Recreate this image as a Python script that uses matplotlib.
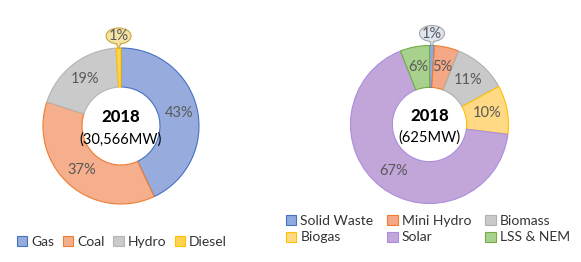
import matplotlib
matplotlib.use("Agg")
import matplotlib.pyplot as plt
import numpy as np
from matplotlib.patches import Ellipse, Polygon, Patch

plt.rcParams['font.family'] = ['Lato', 'DejaVu Sans']

# ---- data ----
left_labels = ["Gas", "Coal", "Hydro", "Diesel"]
left_values = [43, 37, 19, 1]
left_title = "2018"
left_sub = "(30,566MW)"

right_labels = ["Solid Waste", "Mini Hydro", "Biomass", "Biogas", "Solar", "LSS & NEM"]
right_values = [1, 5, 11, 10, 67, 6]
right_title = "2018"
right_sub = "(625MW)"

# ---- styles ----
left_fill = ["#97ACDD", "#F5AF8C", "#CACACA", "#FFD34F"]
left_edge = ["#4472C4", "#ED7D31", "#B5B5B5", "#FFC000"]
right_fill = ["#8FAADC", "#F4A886", "#C9C9C9", "#FFD983", "#C2A6DA", "#A9D18E"]
right_edge = ["#4472C4", "#ED7D31", "#B0B0B0", "#FFC000", "#A98FDC", "#70AD47"]
TXT = "#595959"

W, H = 581, 262
fig = plt.figure(figsize=(W / 100, H / 100), dpi=100)


def make_ax(cx, cy, half=105):
    ax = fig.add_axes([(cx - half) / W, (H - cy - half) / H, 2 * half / W, 2 * half / H])
    return ax


def finish_ax(ax, r, half=105):
    lim = half / r
    ax.set_xlim(-lim, lim)
    ax.set_ylim(-lim, lim)
    ax.set_aspect('equal')
    ax.axis('off')


def donut(ax, r, values, fills, edges, inner, title, sub, callout_idx, callout_fill, callout_edge):
    wedges, _ = ax.pie(values, colors=fills, startangle=90, counterclock=False,
                       radius=1.0, wedgeprops=dict(width=1 - inner, linewidth=0.8))
    for w, ec in zip(wedges, edges):
        w.set_edgecolor(ec)
    mid_r = (1 + inner) / 2 + 0.01
    for i, (w, v) in enumerate(zip(wedges, values)):
        ang = np.deg2rad((w.theta1 + w.theta2) / 2)
        if i == callout_idx:
            x0, y0 = np.cos(ang), np.sin(ang)
            ew, eh = 25 / r, 16 / r
            ecy = 1.0 + 4 / r + eh / 2
            ax.add_patch(Polygon([[x0 - 0.04, ecy - eh / 2 + 0.03], [x0 + 0.04, ecy - eh / 2 + 0.03],
                                  [x0, y0 - 0.01]],
                                 closed=True, facecolor=callout_fill, edgecolor=callout_edge,
                                 linewidth=0.8, zorder=5))
            ax.add_patch(Ellipse((x0, ecy), ew, eh, facecolor=callout_fill,
                                 edgecolor=callout_edge, linewidth=0.8, zorder=6))
            ax.add_patch(Polygon([[x0 - 0.03, ecy - eh / 2 + 0.04], [x0 + 0.03, ecy - eh / 2 + 0.04],
                                  [x0, y0 + 0.02]],
                                 closed=True, facecolor=callout_fill, edgecolor='none', zorder=7))
            ax.text(x0, ecy - 0.005, f"{v}%", ha='center', va='center', fontsize=10.5,
                    color=TXT, zorder=8)
        else:
            ax.text(mid_r * np.cos(ang), mid_r * np.sin(ang), f"{v}%", ha='center',
                    va='center', fontsize=10.5, color=TXT)
    ax.text(0, 0.11, title, ha='center', va='center', fontsize=12, fontweight='black',
            color='black')
    ax.text(0, -0.17, sub, ha='center', va='center', fontsize=10.5, color='black')
    finish_ax(ax, r)


axL = make_ax(121, 126)
donut(axL, 78, left_values, left_fill, left_edge, 0.5, left_title, left_sub, 3, "#F5E3A3", "#C9A43A")

axR = make_ax(429.5, 124.5)
donut(axR, 79, right_values, right_fill, right_edge, 0.47, right_title, right_sub, 0, "#DEE4F0", "#A6A6A6")

hL = [Patch(facecolor=f, edgecolor=e, linewidth=0.8) for f, e in zip(left_fill, left_edge)]
fig.legend(hL, left_labels, loc='center', bbox_to_anchor=(122 / W, (H - 242) / H), ncol=4,
           frameon=False, fontsize=10, handlelength=0.75, handleheight=0.75, handletextpad=0.3,
           columnspacing=0.6, labelcolor='#333333')

hR = [Patch(facecolor=f, edgecolor=e, linewidth=0.8) for f, e in zip(right_fill, right_edge)]
order = [0, 3, 1, 4, 2, 5]
fig.legend([hR[i] for i in order], [right_labels[i] for i in order], loc='center',
           bbox_to_anchor=(428 / W, (H - 229) / H), ncol=3,
           frameon=False, fontsize=10, handlelength=0.75, handleheight=0.75, handletextpad=0.3,
           columnspacing=1.0, labelspacing=0.35, labelcolor='#333333')

fig.savefig("out.png", dpi=100, facecolor='white')
